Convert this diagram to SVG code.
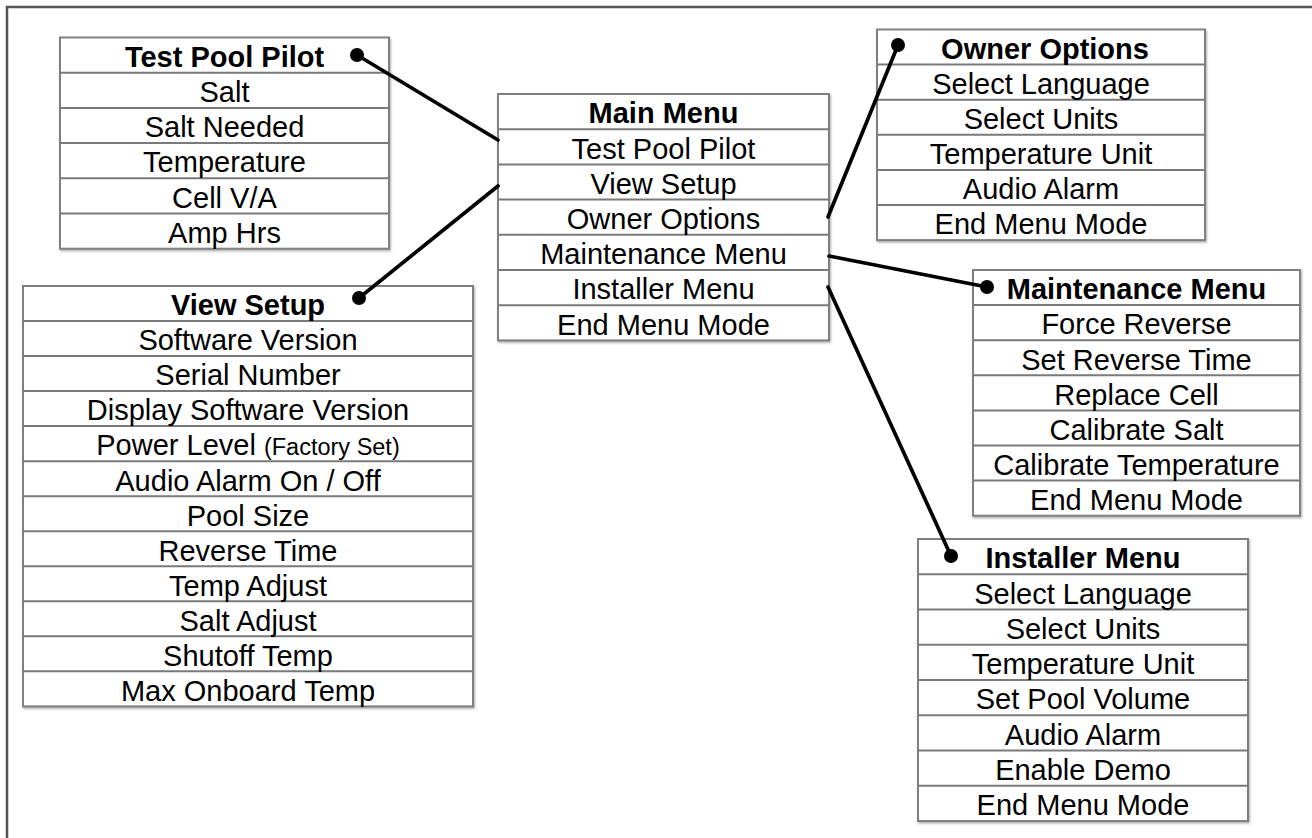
<svg xmlns="http://www.w3.org/2000/svg" width="1312" height="838" viewBox="0 0 1312 838">
<defs>
<filter id="sh" x="-5%" y="-5%" width="110%" height="110%">
<feDropShadow dx="1" dy="1.5" stdDeviation="1.2" flood-color="#999" flood-opacity="0.8"/>
</filter>
<style>
.box{fill:#fff;stroke:#808080;stroke-width:2;filter:url(#sh)}
.sep{stroke:#7a7a7a;stroke-width:2}
.t{font-family:"Liberation Sans",Arial,sans-serif;font-size:29px;fill:#000;text-anchor:middle}
.h{font-weight:bold}
.s{font-size:23.5px}
.c{stroke:#000;stroke-width:3.7;fill:none;stroke-linecap:round}
.d{fill:#000}
</style>
</defs>
<rect width="1312" height="838" fill="#fff"/>
<rect x="7" y="7" width="1320" height="850" fill="none" stroke="#555" stroke-width="2.5"/>

<g id="test-pool-pilot">
<rect class="box" x="60" y="37.5" width="329" height="211.2"/>
<path class="sep" d="M60 72.7H389M60 107.9H389M60 143.1H389M60 178.3H389M60 213.5H389"/>
<text class="t h" x="224.5" y="66.5">Test Pool Pilot</text>
<text class="t" x="224.5" y="102">Salt</text>
<text class="t" x="224.5" y="137.2">Salt Needed</text>
<text class="t" x="224.5" y="172.4">Temperature</text>
<text class="t" x="224.5" y="207.6">Cell V/A</text>
<text class="t" x="224.5" y="242.8">Amp Hrs</text>
</g>

<g id="main-menu">
<rect class="box" x="498" y="94" width="331" height="246.4"/>
<path class="sep" d="M498 129.2H829M498 164.4H829M498 199.6H829M498 234.8H829M498 270H829M498 305.2H829"/>
<text class="t h" x="663.5" y="123">Main Menu</text>
<text class="t" x="663.5" y="158.5">Test Pool Pilot</text>
<text class="t" x="663.5" y="193.7">View Setup</text>
<text class="t" x="663.5" y="228.9">Owner Options</text>
<text class="t" x="663.5" y="264.1">Maintenance Menu</text>
<text class="t" x="663.5" y="299.3">Installer Menu</text>
<text class="t" x="663.5" y="334.5">End Menu Mode</text>
</g>

<g id="owner-options">
<rect class="box" x="877" y="29.5" width="328" height="210.6"/>
<path class="sep" d="M877 64.6H1205M877 99.7H1205M877 134.8H1205M877 169.9H1205M877 205H1205"/>
<text class="t h" x="1045" y="58.5">Owner Options</text>
<text class="t" x="1041" y="93.9">Select Language</text>
<text class="t" x="1041" y="129">Select Units</text>
<text class="t" x="1041" y="164.1">Temperature Unit</text>
<text class="t" x="1041" y="199.2">Audio Alarm</text>
<text class="t" x="1041" y="234.3">End Menu Mode</text>
</g>

<g id="maintenance-menu">
<rect class="box" x="973" y="270" width="327" height="245.7"/>
<path class="sep" d="M973 305.1H1300M973 340.2H1300M973 375.3H1300M973 410.4H1300M973 445.5H1300M973 480.6H1300"/>
<text class="t h" x="1136.5" y="299">Maintenance Menu</text>
<text class="t" x="1136.5" y="334.4">Force Reverse</text>
<text class="t" x="1136.5" y="369.5">Set Reverse Time</text>
<text class="t" x="1136.5" y="404.6">Replace Cell</text>
<text class="t" x="1136.5" y="439.7">Calibrate Salt</text>
<text class="t" x="1136.5" y="474.8">Calibrate Temperature</text>
<text class="t" x="1136.5" y="509.9">End Menu Mode</text>
</g>

<g id="view-setup">
<rect class="box" x="23" y="286" width="450" height="420.4"/>
<path class="sep" d="M23 321H473M23 356.1H473M23 391.1H473M23 426.1H473M23 461.2H473M23 496.2H473M23 531.2H473M23 566.2H473M23 601.3H473M23 636.3H473M23 671.3H473"/>
<text class="t h" x="248" y="315">View Setup</text>
<text class="t" x="248" y="350.3">Software Version</text>
<text class="t" x="248" y="385.4">Serial Number</text>
<text class="t" x="248" y="420.4">Display Software Version</text>
<text class="t" x="248" y="455.4">Power Level <tspan class="s">(Factory Set)</tspan></text>
<text class="t" x="248" y="490.5">Audio Alarm On / Off</text>
<text class="t" x="248" y="525.5">Pool Size</text>
<text class="t" x="248" y="560.5">Reverse Time</text>
<text class="t" x="248" y="595.5">Temp Adjust</text>
<text class="t" x="248" y="630.6">Salt Adjust</text>
<text class="t" x="248" y="665.6">Shutoff Temp</text>
<text class="t" x="248" y="700.6">Max Onboard Temp</text>
</g>

<g id="installer-menu">
<rect class="box" x="918" y="539" width="330" height="282"/>
<path class="sep" d="M918 574.25H1248M918 609.5H1248M918 644.75H1248M918 680H1248M918 715.25H1248M918 750.5H1248M918 785.75H1248"/>
<text class="t h" x="1083" y="568">Installer Menu</text>
<text class="t" x="1083" y="603.5">Select Language</text>
<text class="t" x="1083" y="638.8">Select Units</text>
<text class="t" x="1083" y="674">Temperature Unit</text>
<text class="t" x="1083" y="709.3">Set Pool Volume</text>
<text class="t" x="1083" y="744.5">Audio Alarm</text>
<text class="t" x="1083" y="779.8">Enable Demo</text>
<text class="t" x="1083" y="815">End Menu Mode</text>
</g>

<g id="connectors">
<line class="c" x1="357" y1="55" x2="498" y2="140"/>
<circle class="d" cx="357" cy="55" r="7"/>
<line class="c" x1="359" y1="298" x2="498" y2="186"/>
<circle class="d" cx="359" cy="298" r="7"/>
<line class="c" x1="898" y1="45" x2="828" y2="217"/>
<circle class="d" cx="898" cy="45" r="7"/>
<line class="c" x1="829" y1="256" x2="987" y2="287"/>
<circle class="d" cx="987" cy="287" r="7"/>
<line class="c" x1="828" y1="287" x2="951" y2="556"/>
<circle class="d" cx="951" cy="556" r="7"/>
</g>
</svg>
